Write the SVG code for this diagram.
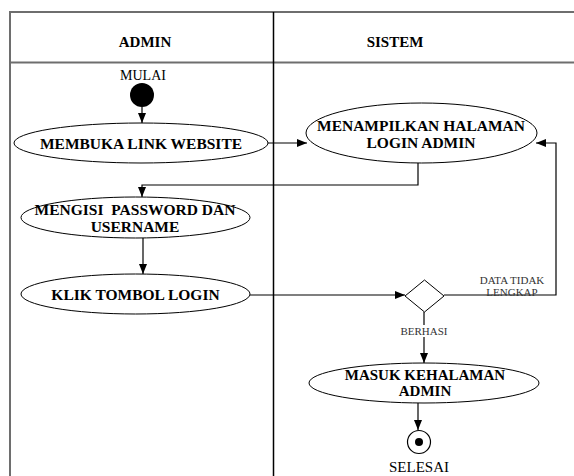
<svg xmlns="http://www.w3.org/2000/svg" width="574" height="476" viewBox="0 0 574 476">
<defs>
<marker id="ah" markerWidth="10" markerHeight="8" refX="10" refY="4" orient="auto" markerUnits="userSpaceOnUse">
<path d="M0,0 L10,4 L0,8 Z" fill="#000"/>
</marker>
<style>
.lane{stroke:#6e6e6e;stroke-width:2;fill:none}
.div{stroke:#000;stroke-width:1.5;fill:none}
.node{fill:#fff;stroke:#000;stroke-width:1}
.lbl{font-family:"Liberation Serif","Times New Roman",serif;font-weight:bold;font-size:15.5px;text-anchor:middle;fill:#000}
.hdr{font-family:"Liberation Serif","Times New Roman",serif;font-weight:bold;font-size:15px;text-anchor:middle;fill:#000}
.txt{font-family:"Liberation Serif","Times New Roman",serif;font-size:14px;text-anchor:middle;fill:#000}
.sm{font-family:"Liberation Serif","Times New Roman",serif;font-size:11px;text-anchor:middle;fill:#333}
.cn{stroke:#000;stroke-width:1.2;fill:none}
</style>
</defs>
<rect width="574" height="476" fill="#fff"/>
<g id="swimlanes">
<line class="lane" x1="9" y1="12" x2="574" y2="12"/>
<line class="lane" x1="9" y1="62.5" x2="574" y2="62.5"/>
<line class="lane" x1="10" y1="12" x2="10" y2="476"/>
<line class="div" x1="273.5" y1="12" x2="273.5" y2="476"/>
<text class="hdr" x="145" y="47">ADMIN</text>
<text class="hdr" x="395" y="47">SISTEM</text>
</g>
<g id="connectors">
<line class="cn" x1="142" y1="107" x2="142" y2="123" marker-end="url(#ah)"/>
<line class="cn" x1="268" y1="143" x2="307" y2="143" marker-end="url(#ah)"/>
<polyline class="cn" points="418,163 418,185 142,185 142,197" marker-end="url(#ah)"/>
<line class="cn" x1="143" y1="238" x2="143" y2="274" marker-end="url(#ah)"/>
<line class="cn" x1="250" y1="295" x2="405" y2="295" marker-end="url(#ah)"/>
<polyline class="cn" points="444,295 556,295 556,143 536,143" marker-end="url(#ah)"/>
<line class="cn" x1="424" y1="312" x2="424" y2="325"/>
<line class="cn" x1="424" y1="337" x2="424" y2="363" marker-end="url(#ah)"/>
<line class="cn" x1="418" y1="403" x2="418" y2="430" marker-end="url(#ah)"/>
<text class="sm" x="512" y="284">DATA TIDAK</text>
<text class="sm" x="512" y="296">LENGKAP</text>
<text class="sm" x="424" y="335">BERHASI</text>
</g>
<g id="start">
<text class="txt" x="143" y="80">MULAI</text>
<circle cx="142" cy="95" r="12" fill="#000"/>
</g>
<g id="membuka">
<ellipse class="node" cx="141" cy="143" rx="127" ry="20"/>
<text class="lbl" x="141" y="148.5">MEMBUKA LINK WEBSITE</text>
</g>
<g id="menampilkan">
<ellipse class="node" cx="421.5" cy="133" rx="115.5" ry="30"/>
<text class="lbl" x="421" y="131">MENAMPILKAN HALAMAN</text>
<text class="lbl" x="421" y="148">LOGIN ADMIN</text>
</g>
<g id="mengisi">
<ellipse class="node" cx="135.5" cy="217.5" rx="114.5" ry="20.5"/>
<text class="lbl" x="135" y="214.5" xml:space="preserve">MENGISI  PASSWORD DAN</text>
<text class="lbl" x="135" y="231.5">USERNAME</text>
</g>
<g id="klik">
<ellipse class="node" cx="135.5" cy="294" rx="114.5" ry="20"/>
<text class="lbl" x="135.5" y="299.5">KLIK TOMBOL LOGIN</text>
</g>
<g id="decision">
<polygon class="node" points="424.5,280 444,296 424.5,312 405,296"/>
</g>
<g id="masuk">
<ellipse class="node" cx="424" cy="383" rx="115" ry="20"/>
<text class="lbl" x="425" y="380" style="font-size:15px">MASUK KEHALAMAN</text>
<text class="lbl" x="425" y="396" style="font-size:15px">ADMIN</text>
</g>
<g id="end">
<circle cx="419" cy="442" r="11.5" fill="#fff" stroke="#000" stroke-width="1.2"/>
<circle cx="419" cy="442" r="4" fill="#000"/>
<text class="txt" x="419" y="472" style="font-size:15px">SELESAI</text>
</g>
</svg>
